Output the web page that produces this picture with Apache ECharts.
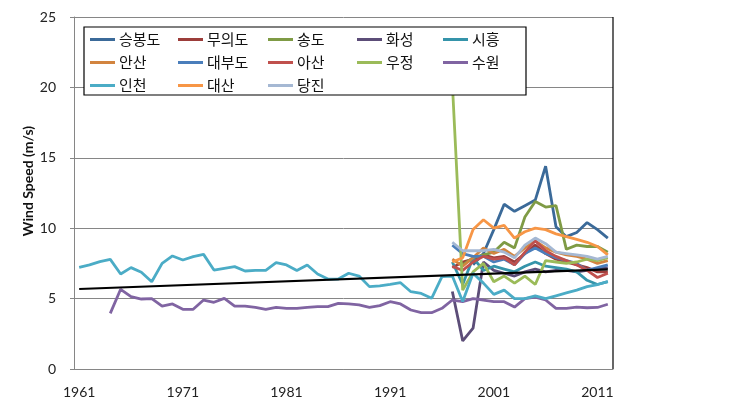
<!DOCTYPE html>
<html>
<head>
<meta charset="utf-8">
<script src="https://cdn.jsdelivr.net/npm/echarts@6/dist/echarts.min.js"></script>
<style>
  html, body { margin: 0; padding: 0; background: #fff; }
  #chart { width: 734px; height: 409px; }
</style>
</head>
<body>
<div id="chart"></div>
<script>
// 연도 (카테고리)
const years = ['1961', '1962', '1963', '1964', '1965', '1966', '1967', '1968', '1969', '1970',
  '1971', '1972', '1973', '1974', '1975', '1976', '1977', '1978', '1979', '1980',
  '1981', '1982', '1983', '1984', '1985', '1986', '1987', '1988', '1989', '1990',
  '1991', '1992', '1993', '1994', '1995', '1996', '1997', '1998', '1999', '2000',
  '2001', '2002', '2003', '2004', '2005', '2006', '2007', '2008', '2009', '2010',
  '2011', '2012']

// 지점별 풍속 (시작 연도부터)
const seungbongdo = [7.4, 8.2, 9.9, 11.7, 11.2, 11.6, 12.0, 14.4, 10.1, 9.4, 9.7, 10.4, 9.9, 9.3] // 1999~
const muuido = [7.2, 7.6, 7.8, 8.1, 7.9, 8.0, 7.6, 8.2, 8.8, 8.2, 7.8, 7.6, 7.4, 7.2, 6.9, 6.9] // 1997~
const songdo = [7.4, 7.9, 8.1, 8.3, 9.0, 8.6, 10.8, 11.9, 11.5, 11.6, 8.5, 8.8, 8.7, 8.7, 8.3] // 1998~
const hwaseong = [5.5, 2.0, 2.9, 7.6, 7.0, 6.8, 6.6, 6.9, 7.1, 6.9, 7.0, 7.0, 6.9, 7.0, 7.1, 7.2] // 1997~
const siheung = [7.6, 6.0, 7.9, 7.0, 7.3, 7.1, 6.9, 7.3, 7.6, 7.3, 7.2, 7.1, 6.9, 6.3, 6.0, 6.2] // 1997~
const ansan = [7.8, 7.3, 7.9, 8.6, 8.2, 8.5, 8.0, 8.6, 9.1, 8.6, 8.3, 8.1, 8.0, 7.8, 7.5, 7.7] // 1997~
const daebudo = [8.8, 8.2, 8.0, 8.0, 7.6, 7.8, 7.4, 8.2, 8.6, 8.2, 7.9, 7.7, 7.5, 7.0, 7.2, 7.4] // 1997~
const asan = [7.3, 7.0, 7.6, 8.0, 7.8, 7.9, 7.4, 8.3, 9.1, 8.4, 8.0, 7.7, 7.4, 7.0, 6.5, 6.8] // 1997~
const ujeong = [20.3, 5.6, 6.9, 7.5, 6.2, 6.6, 6.1, 6.6, 6.0, 7.7, 7.6, 7.5, 7.6, 7.8, 7.7, 7.9] // 1997~
const suwon = [3.95, 5.66, 5.14, 4.97, 5.0, 4.47, 4.62, 4.24, 4.24, 4.9,
  4.74, 5.02, 4.47, 4.47, 4.38, 4.24, 4.38, 4.31, 4.31, 4.38,
  4.43, 4.43, 4.66, 4.62, 4.55, 4.38, 4.5, 4.78, 4.62, 4.19,
  4.0, 4.0, 4.31, 4.9, 4.78, 5.0, 4.9, 4.78, 4.78, 4.4,
  5.0, 5.1, 4.9, 4.3, 4.3, 4.4, 4.35, 4.37, 4.6] // 1964~
const incheon = [7.22, 7.39, 7.62, 7.79, 6.75, 7.2, 6.87, 6.2, 7.5, 8.03,
  7.74, 7.98, 8.14, 7.03, 7.15, 7.27, 6.96, 7.0, 7.0, 7.55,
  7.39, 7.0, 7.39, 6.75, 6.39, 6.39, 6.8, 6.6, 5.85, 5.9,
  6.01, 6.13, 5.49, 5.37, 5.02, 6.56, 6.6, 4.8, 6.8, 6.1,
  5.3, 5.6, 5.0, 5.0, 5.2, 5.0, 5.2, 5.4, 5.6, 5.85,
  6.0, 6.2] // 1961~
const daesan = [7.6, 7.9, 9.9, 10.6, 10.0, 10.2, 9.3, 9.75, 10.0, 9.9, 9.6, 9.4, 9.2, 9.0, 8.7, 8.1] // 1997~
const dangjin = [9.0, 8.4, 8.4, 8.4, 8.5, 8.3, 7.9, 8.8, 9.3, 8.9, 8.3, 8.2, 8.1, 8.0, 7.8, 8.0] // 1997~

// 추세선 양 끝값 (1961, 2012)
const trendEnds = [5.68, 7.08]

const stations = [
  { name: '승봉도', data: seungbongdo, start: '1999', color: '#3B6A99' },
  { name: '무의도', data: muuido, start: '1997', color: '#9C3D3A' },
  { name: '송도', data: songdo, start: '1998', color: '#7F9B45' },
  { name: '화성', data: hwaseong, start: '1997', color: '#5C4D78' },
  { name: '시흥', data: siheung, start: '1997', color: '#3594AA' },
  { name: '안산', data: ansan, start: '1997', color: '#D2843F' },
  { name: '대부도', data: daebudo, start: '1997', color: '#4A7EBB' },
  { name: '아산', data: asan, start: '1997', color: '#C0504D' },
  { name: '우정', data: ujeong, start: '1997', color: '#9BBB59' },
  { name: '수원', data: suwon, start: '1964', color: '#8064A2' },
  { name: '인천', data: incheon, start: '1961', color: '#4BACC6' },
  { name: '대산', data: daesan, start: '1997', color: '#F79646' },
  { name: '당진', data: dangjin, start: '1997', color: '#A5B8D3' }
]

// 시작 연도에 맞춰 null 채우기
function pad (s) {
  const off = years.indexOf(s.start)
  return years.map((y, i) => (i >= off && i - off < s.data.length) ? s.data[i - off] : null)
}

const trendData = years.map((y, i) => i === 0 ? trendEnds[0] : (i === years.length - 1 ? trendEnds[1] : null))

const series = stations.map(s => ({
  name: s.name,
  type: 'line',
  data: pad(s),
  symbol: 'none',
  color: s.color,
  lineStyle: { width: 2.8, color: s.color },
  emphasis: { disabled: true }
}))
series.push({
  name: 'trend',
  type: 'line',
  data: trendData,
  connectNulls: true,
  symbol: 'none',
  lineStyle: { width: 2.2, color: '#000' },
  z: 3,
  emphasis: { disabled: true }
})

// 범례 (열 단위)
const legendCols = [
  ['승봉도', '안산', '인천'],
  ['무의도', '대부도', '대산'],
  ['송도', '아산', '당진'],
  ['화성', '우정'],
  ['시흥', '수원']
]
const legendX = [90, 178, 268, 357, 443]
const legends = legendCols.map((col, i) => ({
  data: col,
  orient: 'vertical',
  left: legendX[i],
  top: 31,
  padding: 0,
  itemGap: 6,
  itemWidth: 25,
  itemHeight: 3,
  icon: 'rect',
  z: 8,
  selectedMode: false,
  textStyle: { fontFamily: 'Noto Sans CJK KR', fontSize: 15, color: '#111', lineHeight: 17, padding: [0, 0, 0, -1] }
}))

const chart = echarts.init(document.getElementById('chart'))
chart.setOption({
  animation: false,
  backgroundColor: '#fff',
  grid: { left: 74, right: 121, top: 17, bottom: 40 },
  legend: legends,
  xAxis: {
    type: 'category',
    data: years,
    boundaryGap: true,
    axisLine: { lineStyle: { color: '#868686', width: 1 } },
    axisTick: { show: false },
    axisLabel: { interval: 9, margin: 16, color: '#222', fontSize: 14, fontFamily: 'Lato' },
    splitLine: { show: false }
  },
  yAxis: {
    type: 'value',
    min: 0,
    max: 25,
    interval: 5,
    axisLine: { show: true, lineStyle: { color: '#868686', width: 1 } },
    axisTick: { show: true, length: 4, lineStyle: { color: '#868686' } },
    axisLabel: { margin: 18, color: '#222', fontSize: 14, fontFamily: 'Lato' },
    splitLine: { lineStyle: { color: '#868686', width: 1 } }
  },
  graphic: [
    {
      type: 'rect',
      shape: { x: 84, y: 27, width: 442, height: 68 },
      style: { fill: '#fff', stroke: '#000', lineWidth: 1.2 },
      z: 6
    },
    {
      type: 'line',
      shape: { x1: 613, y1: 17, x2: 613, y2: 369 },
      style: { stroke: '#000', lineWidth: 1.2 },
      z: 6
    },
    {
      type: 'text',
      x: 28,
      y: 181,
      rotation: Math.PI / 2,
      style: {
        text: 'Wind Speed (m/s)',
        font: 'bold 14px Lato',
        fill: '#111',
        align: 'center',
        verticalAlign: 'middle'
      }
    }
  ],
  series: series
})
</script>
</body>
</html>
